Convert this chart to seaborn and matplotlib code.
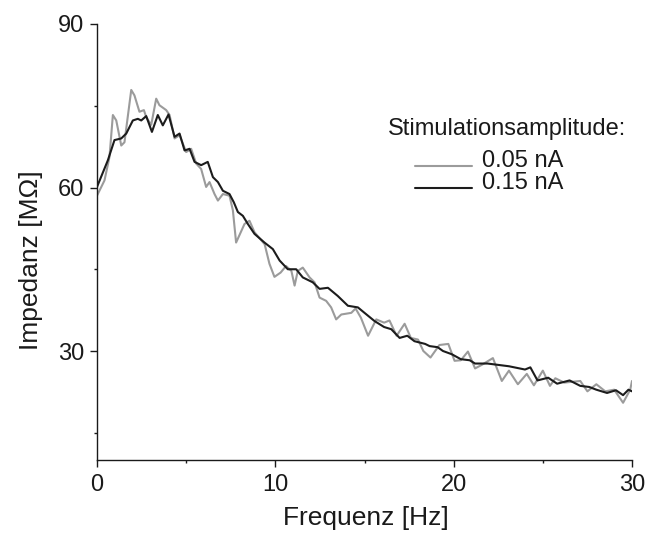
import numpy as np
import pandas as pd
import seaborn as sns
import matplotlib
matplotlib.use("Agg")
import matplotlib.pyplot as plt
from matplotlib.legend_handler import HandlerLine2D
from matplotlib.lines import Line2D

# ---- data ----
freq_005 = [0.0, 0.42, 0.70, 0.89, 1.08, 1.36, 1.54, 1.92, 2.10, 2.38, 2.63, 2.76, 3.04, 3.32, 3.50,
            3.88, 4.07, 4.35, 4.63, 5.00, 5.28, 5.56, 5.84, 6.12, 6.31, 6.59, 6.78, 7.06, 7.43, 7.62,
            7.80, 8.27, 8.55, 8.83, 9.40, 9.67, 9.95, 10.30, 10.60, 10.90, 11.08, 11.26, 11.54, 11.92,
            12.20, 12.48, 12.85, 13.13, 13.41, 13.70, 14.26, 14.50, 14.80, 15.20, 15.66, 16.10, 16.40,
            16.80, 17.25, 17.60, 18.00, 18.30, 18.70, 19.20, 19.70, 20.05, 20.40, 20.80, 21.20, 21.60,
            22.20, 22.70, 23.10, 23.60, 24.10, 24.50, 25.00, 25.40, 25.70, 26.20, 27.10, 27.50, 28.00,
            28.50, 29.00, 29.50, 29.90, 30.00]
imp_005 = [58.5, 61.3, 65.6, 73.3, 72.3, 67.7, 68.3, 77.9, 76.9, 73.9, 74.2, 72.9, 71.5, 76.3, 75.1,
           74.2, 73.3, 69.0, 69.6, 66.5, 67.1, 64.4, 63.4, 60.1, 61.0, 58.8, 57.6, 58.8, 58.5, 55.8,
           49.9, 53.3, 53.9, 51.8, 49.6, 46.0, 43.6, 44.4, 45.6, 44.7, 42.0, 44.7, 45.3, 43.5,
           42.6, 39.8, 39.2, 38.0, 35.8, 36.7, 37.0, 37.8, 36.1, 32.8, 35.8, 35.2, 35.6,
           32.8, 35.0, 32.4, 32.1, 30.0, 28.8, 31.1, 31.3, 28.2, 28.3, 29.9, 26.8, 27.5,
           28.7, 24.5, 26.4, 23.9, 25.8, 23.7, 26.4, 23.6, 25.0, 24.2, 24.5, 22.6, 23.9,
           22.6, 22.9, 20.5, 22.9, 24.5]

freq_015 = [0.0, 0.61, 0.98, 1.36, 1.64, 2.01, 2.29, 2.48, 2.76, 3.08, 3.41, 3.69, 4.01, 4.35, 4.63,
            4.91, 5.19, 5.47, 5.84, 6.21, 6.50, 6.78, 7.06, 7.43, 7.67, 7.90, 8.18, 8.46, 8.83, 9.39,
            9.86, 10.24, 10.70, 11.17, 11.54, 12.10, 12.48, 12.95, 13.50, 14.07, 14.63, 15.00, 15.56,
            16.10, 16.50, 16.97, 17.40, 17.80, 18.40, 18.65, 19.10, 19.40, 19.90, 20.40, 20.90, 21.20,
            21.90, 23.10, 24.00, 24.30, 24.70, 25.30, 25.80, 26.50, 27.10, 27.60, 28.00, 28.60, 29.10,
            29.50, 29.80, 30.00]
imp_015 = [60.1, 65.0, 68.7, 69.0, 69.9, 72.3, 72.6, 72.3, 73.1, 70.2, 73.3, 71.4, 73.4, 69.3, 69.9,
           66.8, 67.1, 64.7, 64.1, 64.7, 61.9, 61.0, 59.4, 58.8, 57.3, 55.5, 54.8, 53.3, 51.5, 49.9,
           48.7, 46.6, 45.0, 45.0, 43.5, 42.6, 41.4, 41.6, 40.1, 38.3, 38.0, 37.0, 35.5,
           34.4, 34.0, 32.4, 32.8, 31.8, 31.3, 30.9, 30.7, 30.0, 29.4, 28.5, 28.3, 27.7,
           27.7, 27.2, 26.6, 27.0, 24.6, 25.1, 24.0, 24.6, 23.6, 23.4, 22.9, 22.3, 22.8,
           21.9, 22.9, 22.6]

series_labels = ["0.05 nA", "0.15 nA"]
legend_title = "Stimulationsamplitude:"
x_label = "Frequenz [Hz]"
y_label = "Impedanz [M\u03a9]"
x_major = [0, 10, 20, 30]
x_minor = [5, 15, 25]
y_major = [30, 60, 90]
y_minor = [15, 45, 75]

# ---- style ----
sns.set_theme(style="ticks")
plt.rcParams["font.family"] = ["Liberation Sans", "DejaVu Sans"]
plt.rcParams["axes.linewidth"] = 1.0
ink = "#1a1a1a"

df = pd.concat([
    pd.DataFrame({"freq": freq_005, "imp": imp_005, "amp": series_labels[0]}),
    pd.DataFrame({"freq": freq_015, "imp": imp_015, "amp": series_labels[1]}),
], ignore_index=True)
palette = {series_labels[0]: "#9b9b9b", series_labels[1]: "#1c1c1c"}

W, H = 648, 539
fig = plt.figure(figsize=(W / 100, H / 100), dpi=100)
ax = fig.add_axes([97 / W, 1 - 460 / H, 535 / W, 436 / H])

sns.lineplot(data=df, x="freq", y="imp", hue="amp", palette=palette,
             estimator=None, sort=True, linewidth=1.5, ax=ax, legend=False)
for ln in ax.get_lines():
    ln.set_solid_joinstyle("round")
    ln.set_solid_capstyle("round")

ax.set_xlim(0, 30)
ax.set_ylim(10, 90)
ax.set_xticks(x_major)
ax.set_xticks(x_minor, minor=True)
ax.set_yticks(y_major)
ax.set_yticks(y_minor, minor=True)
ax.tick_params(which="major", direction="out", length=5, width=1.0, color=ink,
               labelsize=17, labelcolor=ink)
ax.tick_params(axis="x", which="major", pad=5)
ax.tick_params(axis="y", which="major", pad=4)
ax.tick_params(which="minor", direction="out", length=2.5, width=1.0, color=ink)
sns.despine(ax=ax)
for s in ("left", "bottom"):
    ax.spines[s].set_color(ink)
ax.grid(False)

ax.set_xlabel(x_label, fontsize=19, color=ink)
ax.set_ylabel(y_label, fontsize=19, color=ink)
ax.xaxis.set_label_coords(0.503, -0.105)
ax.yaxis.set_label_coords(-0.101, 0.459)


class BaselineHandler(HandlerLine2D):
    def create_artists(self, legend, orig_handle, xdescent, ydescent, width, height,
                       fontsize, trans):
        arts = super().create_artists(legend, orig_handle, xdescent, ydescent, width,
                                      height, fontsize, trans)
        for a in arts:
            a.set_ydata(np.full_like(np.asarray(a.get_ydata(), dtype=float), 0.5))
        return arts


handles = [Line2D([], [], color=palette[l], linewidth=1.5) for l in series_labels]
leg = ax.legend(handles, series_labels, loc="upper left",
                bbox_to_anchor=(415 / W, 1 - 150 / H), bbox_transform=fig.transFigure,
                frameon=False, fontsize=17, borderpad=0, borderaxespad=0,
                handlelength=2.4, handletextpad=0.42, labelspacing=0.0,
                handler_map={Line2D: BaselineHandler()})
for t in leg.get_texts():
    t.set_color(ink)
fig.text(388 / W, 1 - 135 / H, legend_title, fontsize=17, color=ink,
         ha="left", va="baseline")

fig.savefig("out.png", dpi=100)
